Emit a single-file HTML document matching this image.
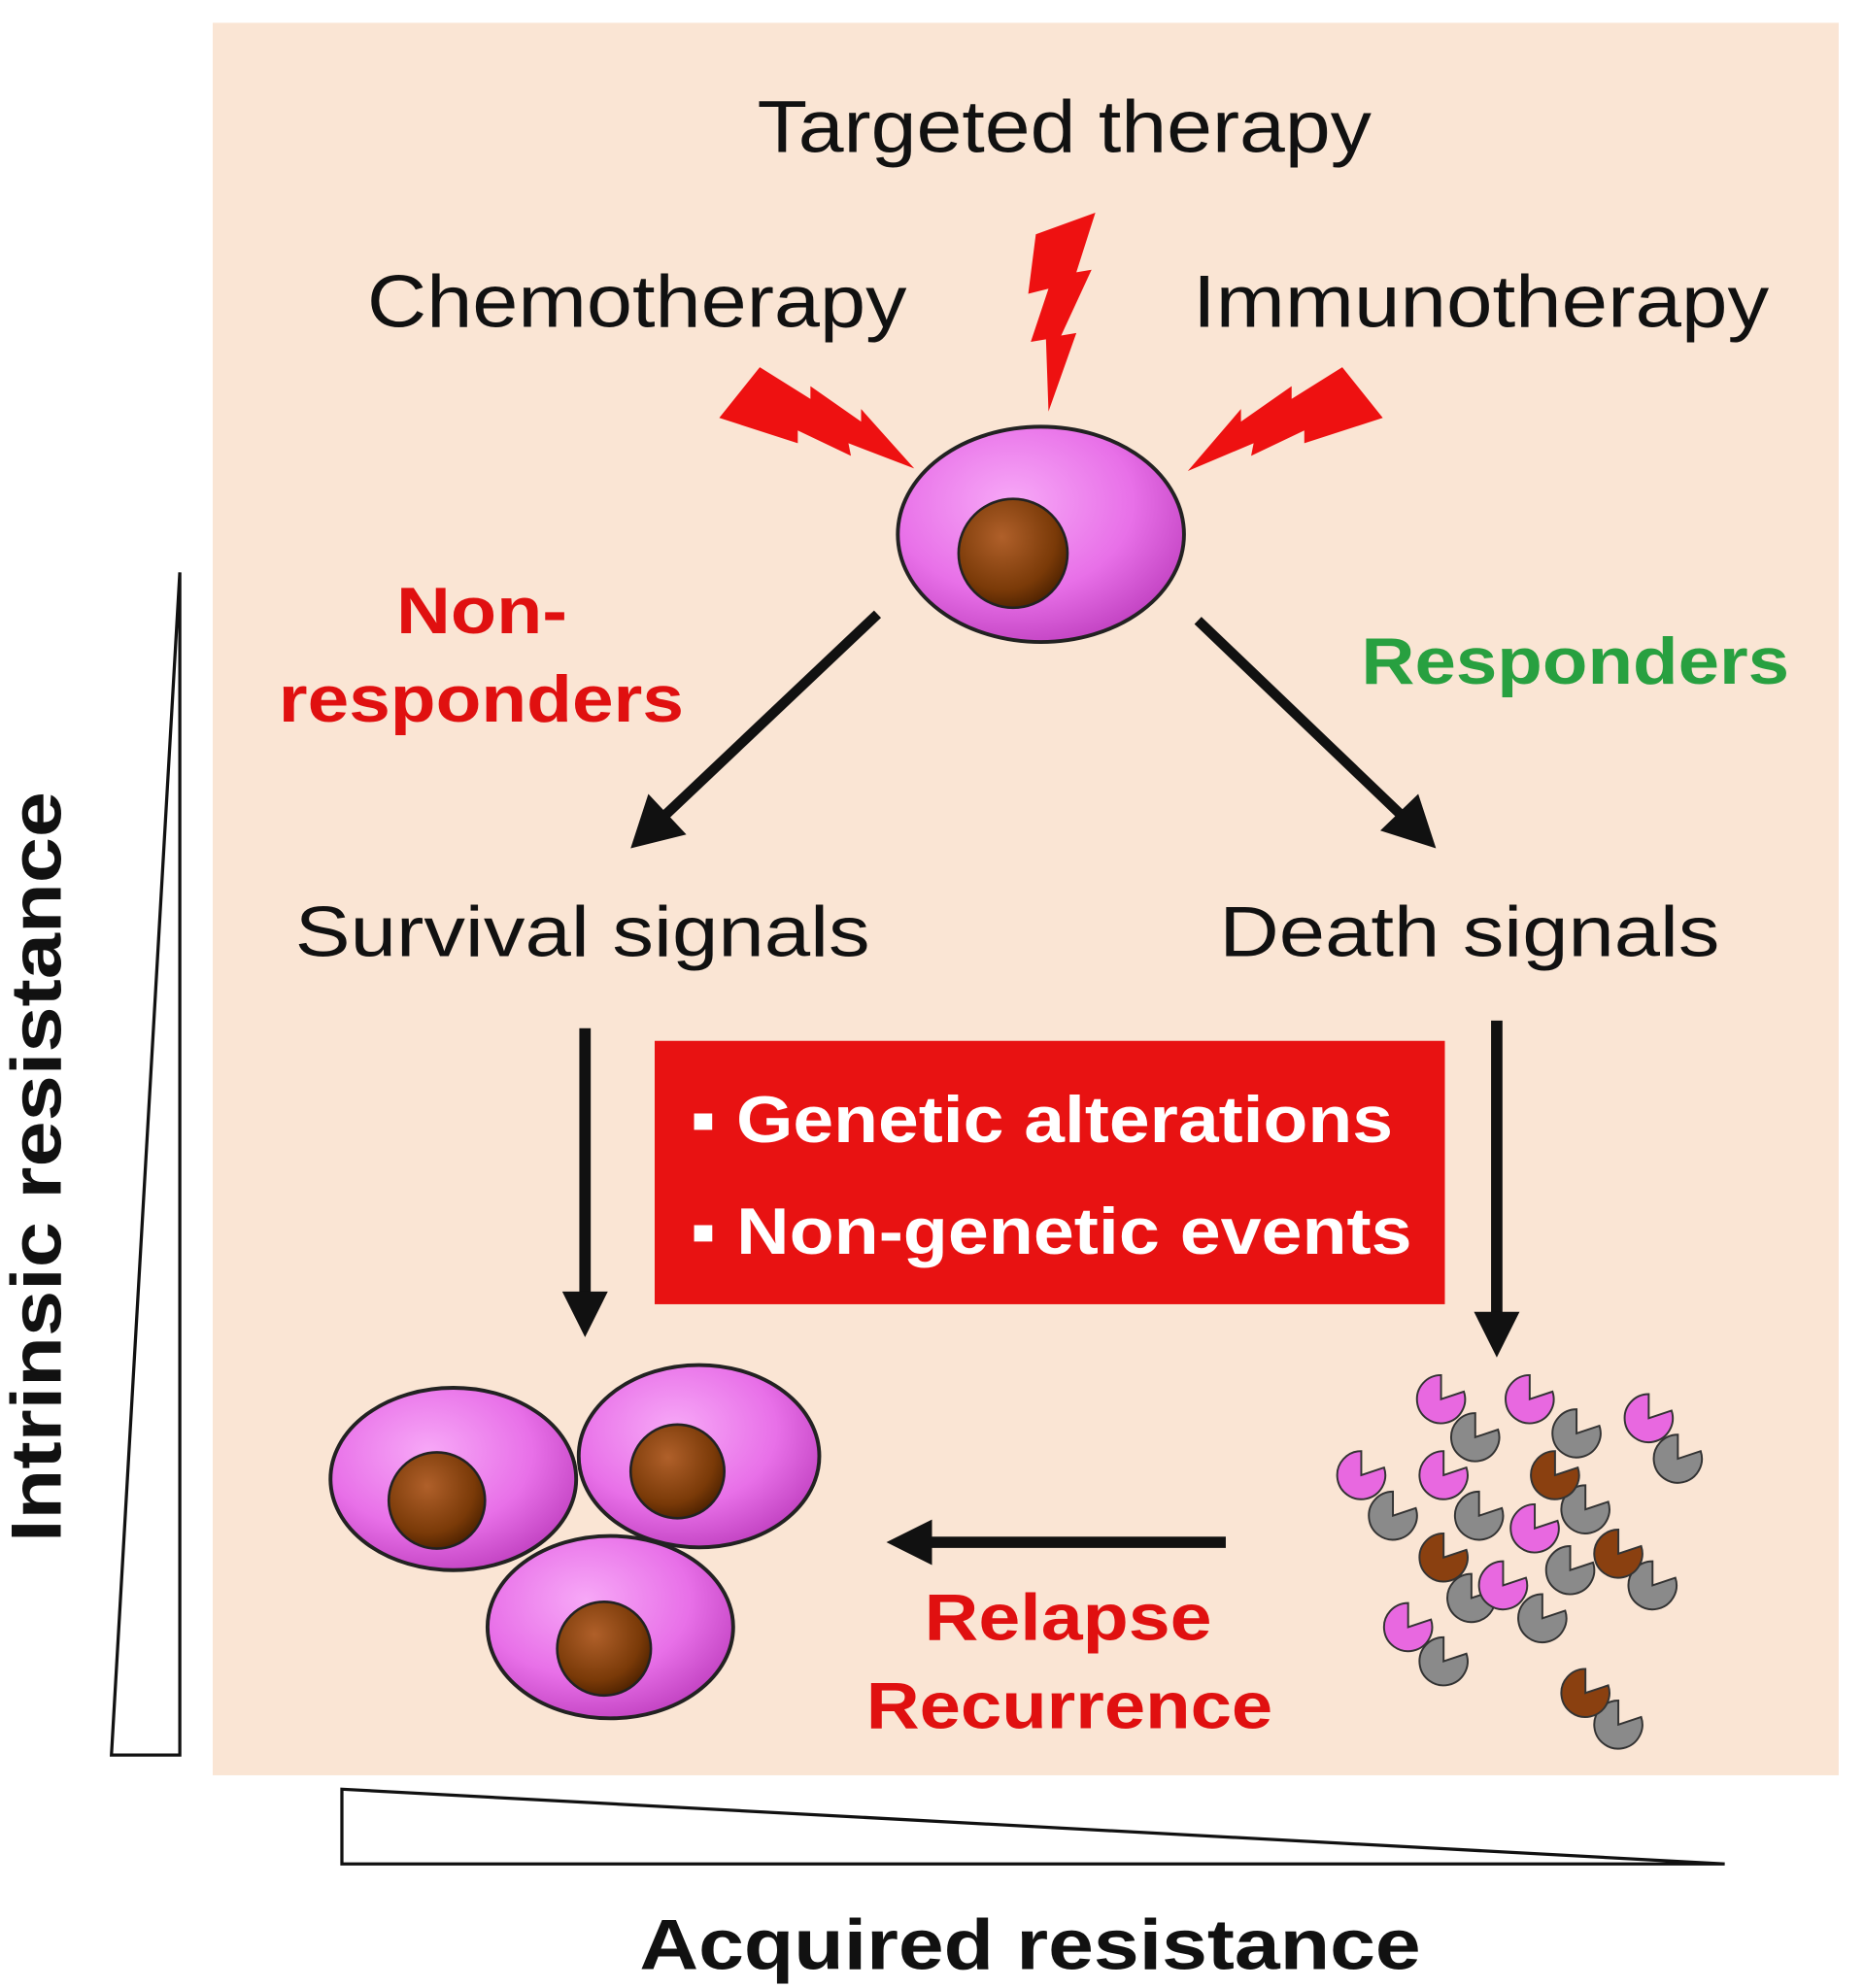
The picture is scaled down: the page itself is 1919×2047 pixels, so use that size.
<!DOCTYPE html>
<html><head><meta charset="utf-8">
<style>
html,body{margin:0;padding:0;background:#fff;}
svg{display:block;}
text{font-family:"Liberation Sans",sans-serif;}
</style></head>
<body>
<svg width="1919" height="2047" viewBox="0 0 1472 1570" preserveAspectRatio="none" xmlns="http://www.w3.org/2000/svg">
<defs>
<radialGradient id="cellg" cx="0.4" cy="0.35" r="0.7">
<stop offset="0" stop-color="#f7a8f7"/><stop offset="0.6" stop-color="#e870e8"/><stop offset="1" stop-color="#c040c0"/>
</radialGradient>
<radialGradient id="nucg" cx="0.4" cy="0.35" r="0.7">
<stop offset="0" stop-color="#b0602a"/><stop offset="0.7" stop-color="#7a3a08"/><stop offset="1" stop-color="#4a2000"/>
</radialGradient>
</defs>
<rect x="168" y="18" width="1284" height="1384" fill="#fae5d4"/>

<text x="598" y="120" font-size="58" textLength="485" lengthAdjust="spacingAndGlyphs" fill="#111">Targeted therapy</text>
<text x="290" y="258" font-size="58" textLength="426" lengthAdjust="spacingAndGlyphs" fill="#111">Chemotherapy</text>
<text x="942" y="258" font-size="58" textLength="455" lengthAdjust="spacingAndGlyphs" fill="#111">Immunotherapy</text>

<polygon points="818,185 865,168 850,215 862,213 838,265 850,263 828,325 826,268 814,270 828,228 812,232" fill="#ee1111"/>
<polygon points="568,330 600,290 640,315 640,305 680,333 680,323 722,370 670,350 672,360 630,340 630,350" fill="#ee1111"/>
<polygon points="1092,330 1060,290 1020,315 1020,305 980,333 980,323 938,372 990,350 988,360 1030,340 1030,350" fill="#ee1111"/>

<ellipse cx="822" cy="422" rx="113" ry="85" fill="url(#cellg)" stroke="#222" stroke-width="3"/>
<circle cx="800" cy="437" r="43" fill="url(#nucg)" stroke="#222" stroke-width="2"/>

<text x="313" y="500" font-size="52" font-weight="bold" textLength="135" lengthAdjust="spacingAndGlyphs" fill="#e01010">Non-</text>
<text x="220" y="570" font-size="52" font-weight="bold" textLength="320" lengthAdjust="spacingAndGlyphs" fill="#e01010">responders</text>
<text x="1075" y="540" font-size="52" font-weight="bold" textLength="338" lengthAdjust="spacingAndGlyphs" fill="#28a040">Responders</text>

<line x1="693" y1="485" x2="525" y2="644" stroke="#111" stroke-width="8"/>
<polygon points="498,670 512,627 542,659" fill="#111"/>
<line x1="946" y1="490" x2="1108" y2="645" stroke="#111" stroke-width="8"/>
<polygon points="1134,670 1090,656 1120,627" fill="#111"/>

<text x="233" y="755" font-size="56" textLength="454" lengthAdjust="spacingAndGlyphs" fill="#111">Survival signals</text>
<text x="963" y="755" font-size="56" textLength="395" lengthAdjust="spacingAndGlyphs" fill="#111">Death signals</text>

<line x1="462" y1="812" x2="462" y2="1025" stroke="#111" stroke-width="9"/>
<polygon points="444,1020 480,1020 462,1056" fill="#111"/>
<line x1="1182" y1="806" x2="1182" y2="1040" stroke="#111" stroke-width="9"/>
<polygon points="1164,1036 1200,1036 1182,1072" fill="#111"/>

<rect x="517" y="822" width="624" height="208" fill="#e81212"/>
<text x="545" y="902" font-size="52" font-weight="bold" textLength="555" lengthAdjust="spacingAndGlyphs" fill="#fff">▪ Genetic alterations</text>
<text x="545" y="990" font-size="52" font-weight="bold" textLength="570" lengthAdjust="spacingAndGlyphs" fill="#fff">▪ Non-genetic events</text>

<ellipse cx="358" cy="1168" rx="97" ry="72" fill="url(#cellg)" stroke="#222" stroke-width="3"/>
<circle cx="345" cy="1185" r="38" fill="url(#nucg)" stroke="#222" stroke-width="2"/>
<ellipse cx="552" cy="1150" rx="95" ry="72" fill="url(#cellg)" stroke="#222" stroke-width="3"/>
<circle cx="535" cy="1162" r="37" fill="url(#nucg)" stroke="#222" stroke-width="2"/>
<ellipse cx="482" cy="1285" rx="97" ry="72" fill="url(#cellg)" stroke="#222" stroke-width="3"/>
<circle cx="477" cy="1302" r="37" fill="url(#nucg)" stroke="#222" stroke-width="2"/>

<line x1="968" y1="1218" x2="730" y2="1218" stroke="#111" stroke-width="9"/>
<polygon points="700,1218 736,1200 736,1236" fill="#111"/>
<text x="730" y="1295" font-size="52" font-weight="bold" textLength="227" lengthAdjust="spacingAndGlyphs" fill="#e01010">Relapse</text>
<text x="684" y="1365" font-size="52" font-weight="bold" textLength="321" lengthAdjust="spacingAndGlyphs" fill="#e01010">Recurrence</text>

<g stroke="#333" stroke-width="1.5">
<g fill="#8a8a8a">
<path d="M1165,1135 l18,-6 a19,19 0 1 1 -18,-13 z"/>
<path d="M1245,1132 l18,-6 a19,19 0 1 1 -18,-13 z"/>
<path d="M1325,1152 l18,-6 a19,19 0 1 1 -18,-13 z"/>
<path d="M1100,1197 l18,-6 a19,19 0 1 1 -18,-13 z"/>
<path d="M1168,1197 l18,-6 a19,19 0 1 1 -18,-13 z"/>
<path d="M1252,1192 l18,-6 a19,19 0 1 1 -18,-13 z"/>
<path d="M1240,1240 l18,-6 a19,19 0 1 1 -18,-13 z"/>
<path d="M1305,1252 l18,-6 a19,19 0 1 1 -18,-13 z"/>
<path d="M1162,1262 l18,-6 a19,19 0 1 1 -18,-13 z"/>
<path d="M1218,1278 l18,-6 a19,19 0 1 1 -18,-13 z"/>
<path d="M1140,1312 l18,-6 a19,19 0 1 1 -18,-13 z"/>
<path d="M1278,1362 l18,-6 a19,19 0 1 1 -18,-13 z"/>
</g>
<g fill="#e868e0">
<path d="M1138,1105 l18,-6 a19,19 0 1 1 -18,-13 z"/>
<path d="M1208,1105 l18,-6 a19,19 0 1 1 -18,-13 z"/>
<path d="M1302,1120 l18,-6 a19,19 0 1 1 -18,-13 z"/>
<path d="M1075,1165 l18,-6 a19,19 0 1 1 -18,-13 z"/>
<path d="M1140,1165 l18,-6 a19,19 0 1 1 -18,-13 z"/>
<path d="M1212,1207 l18,-6 a19,19 0 1 1 -18,-13 z"/>
<path d="M1187,1252 l18,-6 a19,19 0 1 1 -18,-13 z"/>
<path d="M1112,1285 l18,-6 a19,19 0 1 1 -18,-13 z"/>
</g>
<g fill="#8a4010">
<path d="M1228,1165 l18,-6 a19,19 0 1 1 -18,-13 z"/>
<path d="M1140,1230 l18,-6 a19,19 0 1 1 -18,-13 z"/>
<path d="M1278,1227 l18,-6 a19,19 0 1 1 -18,-13 z"/>
<path d="M1252,1337 l18,-6 a19,19 0 1 1 -18,-13 z"/>
</g>
</g>

<polygon points="142,452 142,1386 88,1386" fill="#fff" stroke="#111" stroke-width="2.5"/>
<polygon points="270,1413 270,1472 1362,1472" fill="#fff" stroke="#111" stroke-width="2.5"/>

<text transform="translate(48,1218) rotate(-90)" font-size="56" font-weight="bold" textLength="593" lengthAdjust="spacingAndGlyphs" fill="#111">Intrinsic resistance</text>
<text x="505" y="1555" font-size="56" font-weight="bold" textLength="617" lengthAdjust="spacingAndGlyphs" fill="#111">Acquired resistance</text>
</svg>
</body></html>
